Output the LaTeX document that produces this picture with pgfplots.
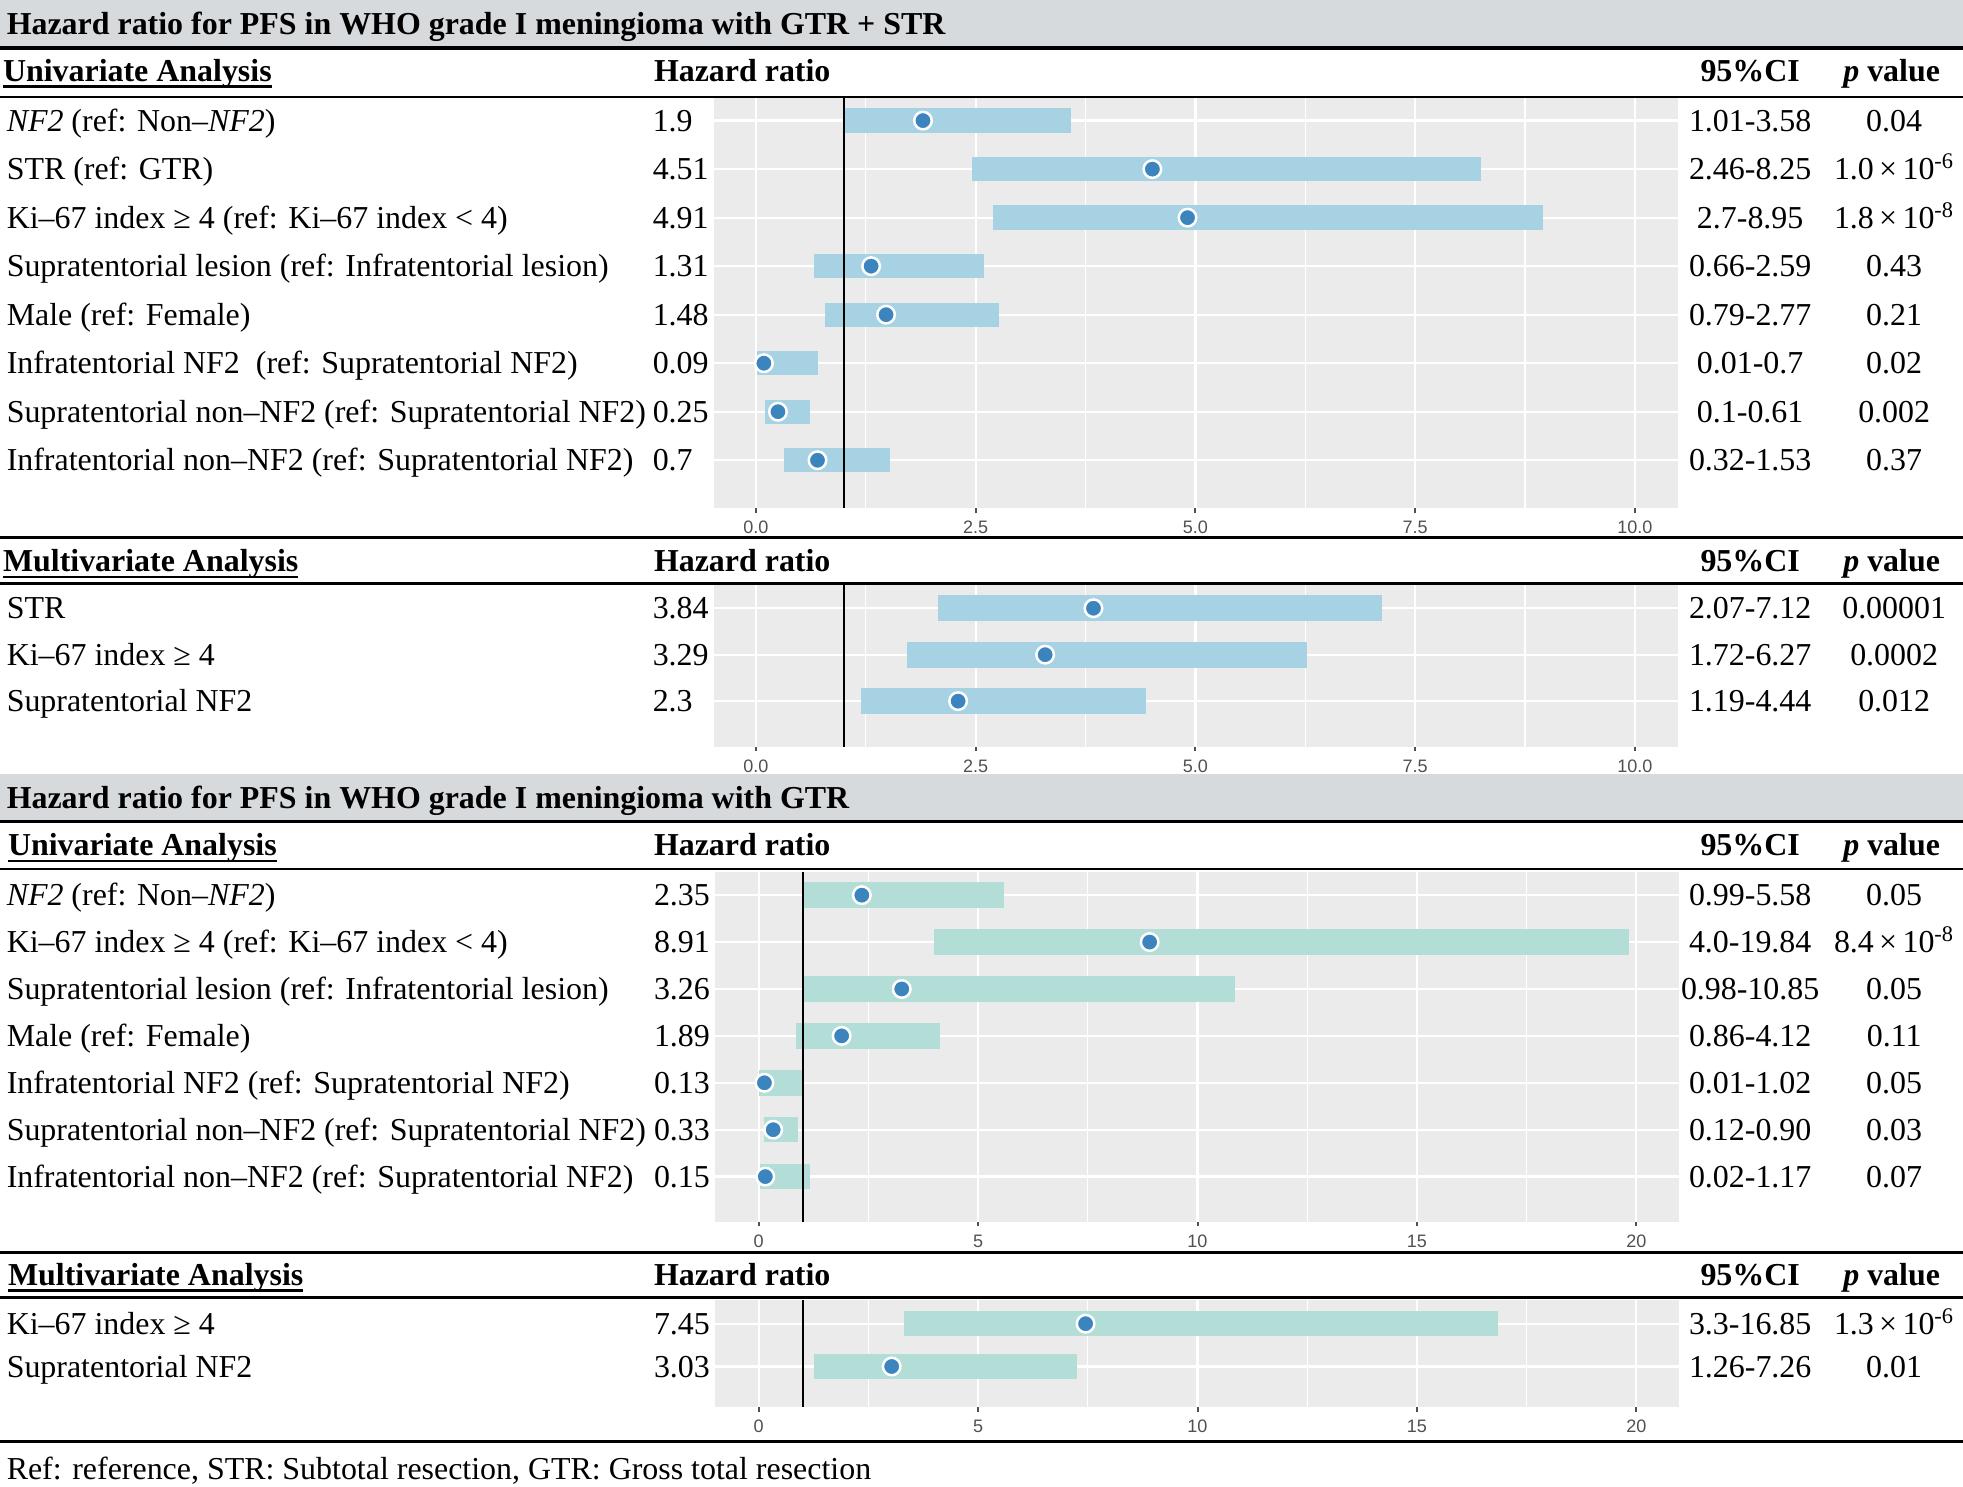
\documentclass[border=0pt]{standalone}
\usepackage{fontspec}
\setmainfont{Liberation Serif}
\newfontfamily\tickfont{Liberation Sans}
\usepackage{pgfplots}
\pgfplotsset{compat=1.18}
\usepackage{pgfplotstable}

\definecolor{bandgray}{HTML}{D6DADC}
\definecolor{panelgray}{HTML}{EBEBEB}
\definecolor{barA}{HTML}{A7D2E4}
\definecolor{barB}{HTML}{B3DDD7}
\definecolor{ptblue}{HTML}{3C84BE}
\definecolor{tickgray}{HTML}{505050}

\newcommand\rf{\fontsize{12.75pt}{15pt}\selectfont}
\newcommand\ULx[1]{\setbox0\hbox{#1}\rlap{\rule[-2.7pt]{\wd0}{1.05pt}}\box0}

\pgfplotstableread{
row hr lo hi
1 1.9 1.01 3.58
2 4.51 2.46 8.25
3 4.91 2.7 8.95
4 1.31 0.66 2.59
5 1.48 0.79 2.77
6 0.09 0.01 0.7
7 0.25 0.1 0.61
8 0.7 0.32 1.53
}\tUa
\pgfplotstableread{
row hr lo hi
1 3.84 2.07 7.12
2 3.29 1.72 6.27
3 2.3 1.19 4.44
}\tMa
\pgfplotstableread{
row hr lo hi
1 2.35 0.99 5.58
2 8.91 4.0 19.84
3 3.26 0.98 10.85
4 1.89 0.86 4.12
5 0.13 0.01 1.02
6 0.33 0.12 0.90
7 0.15 0.02 1.17
}\tUb
\pgfplotstableread{
row hr lo hi
1 7.45 3.3 16.85
2 3.03 1.26 7.26
}\tMb

\pgfplotsset{
 forest/.style={
  scale only axis, width=385pt, anchor=north west,
  axis background/.style={fill=panelgray},
  axis line style={draw=none},
  y dir=reverse,
  yticklabels={}, ytick style={draw=none},
  ymajorgrids, xmajorgrids, xminorgrids,
  major grid style={white, line width=0.9pt},
  minor grid style={white, line width=0.5pt},
  tick align=outside, xtick pos=left,
  major tick length=1.9pt, minor tick length=0pt,
  xtick style={tickgray, line width=0.8pt},
  xticklabel style={font=\tickfont\fontsize{7.2pt}{8pt}\selectfont, text=tickgray, inner sep=1.6pt, yshift=-1.5pt},
 },
 scaleA/.style={xmin=-0.478, xmax=10.49, xtick={0,2.5,5,7.5,10}, xticklabels={0.0,2.5,5.0,7.5,10.0}, minor xtick={1.25,3.75,6.25,8.75}},
 scaleB/.style={xmin=-1.0, xmax=20.97, xtick={0,5,10,15,20}, xticklabels={0,5,10,15,20}, minor xtick={2.5,7.5,12.5,17.5}},
}

\newcommand\bars[3]{%
 \addplot[forget plot, only marks, mark=none, error bars/.cd, x dir=both, x explicit, error mark=none,
   error bar style={line width=#3, color=#2, line cap=butt}]
   table[x=hr, y=row, x error plus expr=\thisrow{hi}-\thisrow{hr}, x error minus expr=\thisrow{hr}-\thisrow{lo}] {#1};}
\newcommand\pts[1]{%
 \addplot[forget plot, only marks, mark=*, mark size=3.5pt, mark options={fill=ptblue, draw=white, line width=1pt}]
   table[x=hr, y=row] {#1};}

\newcommand\tl[3]{\node[anchor=base west, inner sep=0pt, font=\rf] at (#1,{#2+8.5}) {#3};}
\newcommand\tc[3]{\node[anchor=base, inner sep=0pt, font=\rf] at (#1,{#2+8.5}) {#3};}
\newcommand\pe[2]{#1\,×\,10\textsuperscript{-#2}}

\begin{document}
\begin{tikzpicture}
\path[use as bounding box] (0,0) rectangle (784pt,-593.5pt);
\begin{scope}[x=0.5pt,y=-0.5pt]
 \fill[bandgray] (0,0) rectangle (1568,37.5);
 \fill[bandgray] (0,618) rectangle (1568,655);
 \foreach \yy in {38.3,429.3,656,1000.5,1151.5} {\draw[line width=1.3pt] (0,\yy) -- (1568,\yy);}
 \foreach \yy in {77.2,466,694,1036.5} {\draw[line width=0.9pt] (0,\yy) -- (1568,\yy);}
 \coordinate (P1) at (570.3,78.5);
 \coordinate (P2) at (570.3,467.3);
 \coordinate (P3) at (571,696.3);
 \coordinate (P4) at (571,1038.5);

 % ---------- section 1 ----------
 \tl{5}{19}{\bfseries Hazard ratio for PFS in WHO grade I meningioma with GTR + STR}
 \tl{2}{56.5}{\bfseries\ULx{Univariate Analysis}}
 \tl{522}{56.5}{\bfseries Hazard ratio}
 \tc{1398}{56.5}{\bfseries 95\%CI}
 \tc{1511}{56.5}{\bfseries\textit{p} value}
 \foreach \yc/\lab/\hr/\ci/\pv in {
   96.3/{\textit{NF2} (ref: Non–\textit{NF2})}/1.9/1.01-3.58/0.04,
   135.1/{STR (ref: GTR)}/4.51/2.46-8.25/{\pe{1.0}{6}},
   173.8/{Ki–67 index ≥ 4 (ref: Ki–67 index < 4)}/4.91/2.7-8.95/{\pe{1.8}{8}},
   212.6/{Supratentorial lesion (ref: Infratentorial lesion)}/1.31/0.66-2.59/0.43,
   251.4/{Male (ref: Female)}/1.48/0.79-2.77/0.21,
   290.1/{Infratentorial NF2\ \ (ref: Supratentorial NF2)}/0.09/0.01-0.7/0.02,
   328.9/{Supratentorial non–NF2 (ref: Supratentorial NF2)}/0.25/0.1-0.61/0.002,
   367.7/{Infratentorial non–NF2 (ref: Supratentorial NF2)}/0.7/0.32-1.53/0.37}
 { \tl{5}{\yc}{\lab} \tl{521}{\yc}{\hr} \tc{1398}{\yc}{\ci} \tc{1513}{\yc}{\pv} }

 \tl{2}{448}{\bfseries\ULx{Multivariate Analysis}}
 \tl{522}{448}{\bfseries Hazard ratio}
 \tc{1398}{448}{\bfseries 95\%CI}
 \tc{1511}{448}{\bfseries\textit{p} value}
 \foreach \yc/\lab/\hr/\ci/\pv in {
   485.9/{STR}/3.84/2.07-7.12/0.00001,
   523.0/{Ki–67 index ≥ 4}/3.29/1.72-6.27/0.0002,
   560.1/{Supratentorial NF2}/2.3/1.19-4.44/0.012}
 { \tl{5}{\yc}{\lab} \tl{521}{\yc}{\hr} \tc{1398}{\yc}{\ci} \tc{1513}{\yc}{\pv} }

 % ---------- section 2 ----------
 \tl{5}{637}{\bfseries Hazard ratio for PFS in WHO grade I meningioma with GTR}
 \tl{6}{675}{\bfseries\ULx{Univariate Analysis}}
 \tl{522}{675}{\bfseries Hazard ratio}
 \tc{1398}{675}{\bfseries 95\%CI}
 \tc{1511}{675}{\bfseries\textit{p} value}
 \foreach \yc/\lab/\hr/\ci/\pv in {
   715.0/{\textit{NF2} (ref: Non–\textit{NF2})}/2.35/0.99-5.58/0.05,
   752.4/{Ki–67 index ≥ 4 (ref: Ki–67 index < 4)}/8.91/4.0-19.84/{\pe{8.4}{8}},
   789.9/{Supratentorial lesion (ref: Infratentorial lesion)}/3.26/0.98-10.85/0.05,
   827.4/{Male (ref: Female)}/1.89/0.86-4.12/0.11,
   864.8/{Infratentorial NF2 (ref: Supratentorial NF2)}/0.13/0.01-1.02/0.05,
   902.3/{Supratentorial non–NF2 (ref: Supratentorial NF2)}/0.33/0.12-0.90/0.03,
   939.8/{Infratentorial non–NF2 (ref: Supratentorial NF2)}/0.15/0.02-1.17/0.07}
 { \tl{5}{\yc}{\lab} \tl{522}{\yc}{\hr} \tc{1398}{\yc}{\ci} \tc{1513}{\yc}{\pv} }

 \tl{6}{1018}{\bfseries\ULx{Multivariate Analysis}}
 \tl{522}{1018}{\bfseries Hazard ratio}
 \tc{1398}{1018}{\bfseries 95\%CI}
 \tc{1511}{1018}{\bfseries\textit{p} value}
 \foreach \yc/\lab/\hr/\ci/\pv in {
   1057.3/{Ki–67 index ≥ 4}/7.45/3.3-16.85/{\pe{1.3}{6}},
   1091.5/{Supratentorial NF2}/3.03/1.26-7.26/0.01}
 { \tl{5}{\yc}{\lab} \tl{522}{\yc}{\hr} \tc{1398}{\yc}{\ci} \tc{1513}{\yc}{\pv} }

 \tl{5}{1173}{Ref: reference, STR: Subtotal resection, GTR: Gross total resection}
\end{scope}

\begin{axis}[forest, scaleA, at={(P1)}, height=163.75pt, ymin=0.54, ymax=8.99, ytick={1,...,8}]
 \bars{\tUa}{barA}{9.7pt}
 \addplot[forget plot, black, line width=0.8pt] coordinates {(1,0.54) (1,8.99)};
 \pts{\tUa}
\end{axis}
\begin{axis}[forest, scaleA, at={(P2)}, height=64.55pt, ymin=0.5, ymax=3.98, ytick={1,2,3}]
 \bars{\tMa}{barA}{10.3pt}
 \addplot[forget plot, black, line width=0.8pt] coordinates {(1,0.5) (1,3.98)};
 \pts{\tMa}
\end{axis}
\begin{axis}[forest, scaleB, at={(P3)}, height=139.75pt, ymin=0.5, ymax=7.96, ytick={1,...,7}]
 \bars{\tUb}{barB}{10.2pt}
 \addplot[forget plot, black, line width=0.8pt] coordinates {(1,0.5) (1,7.96)};
 \pts{\tUb}
\end{axis}
\begin{axis}[forest, scaleB, at={(P4)}, height=42.75pt, ymin=0.45, ymax=2.95, ytick={1,2}]
 \bars{\tMb}{barB}{10.2pt}
 \addplot[forget plot, black, line width=0.8pt] coordinates {(1,0.45) (1,2.95)};
 \pts{\tMb}
\end{axis}
\end{tikzpicture}
\end{document}
